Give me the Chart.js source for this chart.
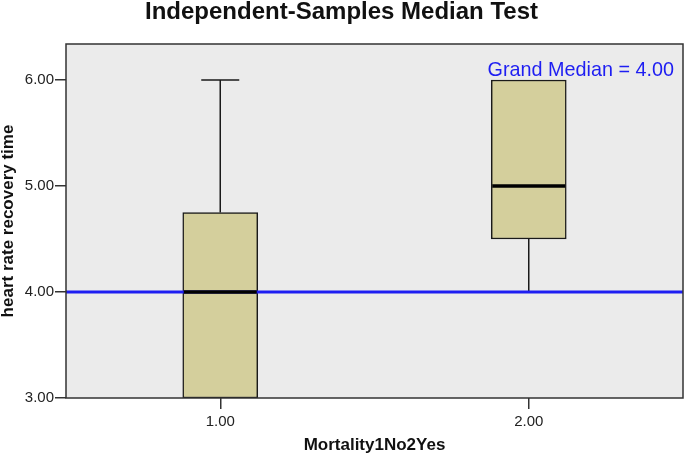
<!DOCTYPE html>
<html>
<head>
<meta charset="utf-8">
<title>Independent-Samples Median Test</title>
<script src="https://cdn.jsdelivr.net/npm/chart.js@4/dist/chart.umd.min.js"></script>
<style>
  html, body { margin: 0; padding: 0; background: #ffffff; }
  #wrap { width: 685px; height: 456px; }
</style>
</head>
<body>
<div id="wrap"><canvas id="medianChart" width="685" height="456"></canvas></div>
<script>
// ---- Data ----
const groups = [1, 2];
const groupLabels = ["1.00", "2.00"];
const whiskerLow = [3.0, 4.0];
const q1 = [3.0, 4.5];
const medians = [4.0, 5.0];
const q3 = [4.75, 6.0];
const whiskerHigh = [6.0, 6.0];
const grandMedian = 4.0;
const yTicks = [3, 4, 5, 6];

const FONT = "'Liberation Sans', Arial, sans-serif";
const BOX_FILL = "#d4cf9c";
const INK = "#1a1a1a";
const BLUE = "#1e1ef2";

// Plot background + frame
const framePlugin = {
    id: "frame",
    beforeDraw(chart) {
        const { ctx, chartArea: a } = chart;
        ctx.save();
        ctx.fillStyle = "#ebebeb";
        ctx.fillRect(a.left, a.top, a.right - a.left, a.bottom - a.top);
        ctx.restore();
    },
    afterDraw(chart) {
        const { ctx, chartArea: a } = chart;
        ctx.save();
        ctx.strokeStyle = "#333333";
        ctx.lineWidth = 1.5;
        ctx.strokeRect(a.left, a.top, a.right - a.left, a.bottom - a.top);
        ctx.restore();
    }
};

// Whiskers, caps and medians, placed through the chart scales
const boxPlugin = {
    id: "boxParts",
    afterDatasetDraw(chart, args) {
        if (args.index !== 0) return;
        const { ctx, chartArea: a } = chart;
        const x = chart.scales.x, y = chart.scales.y;
        ctx.save();
        ctx.beginPath();
        ctx.rect(a.left, a.top, a.right - a.left, a.bottom - a.top);
        ctx.clip();
        ctx.strokeStyle = INK;
        ctx.lineWidth = 1.5;
        groups.forEach((g, i) => {
            const cx = x.getPixelForValue(g);
            const capHalf = 19;
            // upper whisker
            if (whiskerHigh[i] > q3[i]) {
                ctx.beginPath();
                ctx.moveTo(cx, y.getPixelForValue(q3[i]));
                ctx.lineTo(cx, y.getPixelForValue(whiskerHigh[i]));
                ctx.moveTo(cx - capHalf, y.getPixelForValue(whiskerHigh[i]));
                ctx.lineTo(cx + capHalf, y.getPixelForValue(whiskerHigh[i]));
                ctx.stroke();
            }
            // lower whisker
            if (whiskerLow[i] < q1[i]) {
                ctx.beginPath();
                ctx.moveTo(cx, y.getPixelForValue(q1[i]));
                ctx.lineTo(cx, y.getPixelForValue(whiskerLow[i]));
                ctx.moveTo(cx - capHalf, y.getPixelForValue(whiskerLow[i]));
                ctx.lineTo(cx + capHalf, y.getPixelForValue(whiskerLow[i]));
                ctx.stroke();
            }
        });
        ctx.restore();
    },
    afterDatasetsDraw(chart) {
        const { ctx, chartArea: a } = chart;
        const x = chart.scales.x, y = chart.scales.y;
        const bars = chart.getDatasetMeta(0).data;
        ctx.save();
        // medians on top of the grand median line
        ctx.strokeStyle = "#000000";
        ctx.lineWidth = 3.5;
        groups.forEach((g, i) => {
            const half = bars[i].width / 2;
            const cx = x.getPixelForValue(g);
            const my = y.getPixelForValue(medians[i]);
            ctx.beginPath();
            ctx.moveTo(cx - half + 1, my);
            ctx.lineTo(cx + half - 1, my);
            ctx.stroke();
        });
        // grand median label
        ctx.fillStyle = BLUE;
        ctx.font = "19.8px " + FONT;
        ctx.textAlign = "right";
        ctx.textBaseline = "middle";
        ctx.fillText("Grand Median = " + grandMedian.toFixed(2), a.right - 9, a.top + 27);
        ctx.restore();
    }
};

const ctx = document.getElementById("medianChart");

new Chart(ctx, {
    type: "bar",
    data: {
        datasets: [
            {
                type: "bar",
                label: "IQR",
                data: groups.map((g, i) => ({ x: g, y: [q1[i], q3[i]] })),
                backgroundColor: BOX_FILL,
                borderColor: INK,
                borderWidth: 1.5,
                borderSkipped: false,
                barThickness: 75,
                order: 2
            },
            {
                type: "line",
                label: "Grand Median",
                data: [{ x: 0.5, y: grandMedian }, { x: 2.5, y: grandMedian }],
                borderColor: BLUE,
                borderWidth: 3,
                pointRadius: 0,
                fill: false,
                order: 1
            }
        ]
    },
    options: {
        responsive: false,
        animation: false,
        layout: { padding: { top: 0, right: 2, bottom: 0, left: 0 } },
        plugins: {
            legend: { display: false },
            tooltip: { enabled: false },
            title: {
                display: true,
                text: "Independent-Samples Median Test",
                color: "#111111",
                font: { family: FONT, size: 24, weight: "bold", lineHeight: 1 },
                padding: { top: 0, bottom: 20 }
            }
        },
        scales: {
            x: {
                type: "linear",
                min: 0.5,
                max: 2.5,
                offset: false,
                afterBuildTicks: s => { s.ticks = groups.map(v => ({ value: v })); },
                afterFit: s => { s.height = 58; },
                ticks: {
                    color: "#222222",
                    font: { family: FONT, size: 15 },
                    padding: 4,
                    maxRotation: 0,
                    callback: (v) => groupLabels[groups.indexOf(v)]
                },
                grid: { offset: false, drawOnChartArea: false, drawTicks: true, tickLength: 11, color: "#333333", lineWidth: 1.5 },
                border: { display: false },
                title: {
                    display: true,
                    text: "Mortality1No2Yes",
                    color: "#111111",
                    font: { family: FONT, size: 17, weight: "bold", lineHeight: 1 },
                    padding: { top: 0, bottom: 2 }
                }
            },
            y: {
                type: "linear",
                min: 3,
                max: 6.34,
                afterBuildTicks: s => { s.ticks = yTicks.map(v => ({ value: v })); },
                afterFit: s => { s.width = 66; },
                ticks: {
                    color: "#222222",
                    font: { family: FONT, size: 15 },
                    padding: 1,
                    callback: v => Number(v).toFixed(2)
                },
                grid: { drawOnChartArea: false, drawTicks: true, tickLength: 11, color: "#333333", lineWidth: 1.5 },
                border: { display: false },
                title: {
                    display: true,
                    text: "heart rate recovery time",
                    color: "#111111",
                    font: { family: FONT, size: 17, weight: "bold", lineHeight: 1 },
                    padding: { top: 0, bottom: 0 }
                }
            }
        }
    },
    plugins: [framePlugin, boxPlugin]
});
</script>
</body>
</html>
